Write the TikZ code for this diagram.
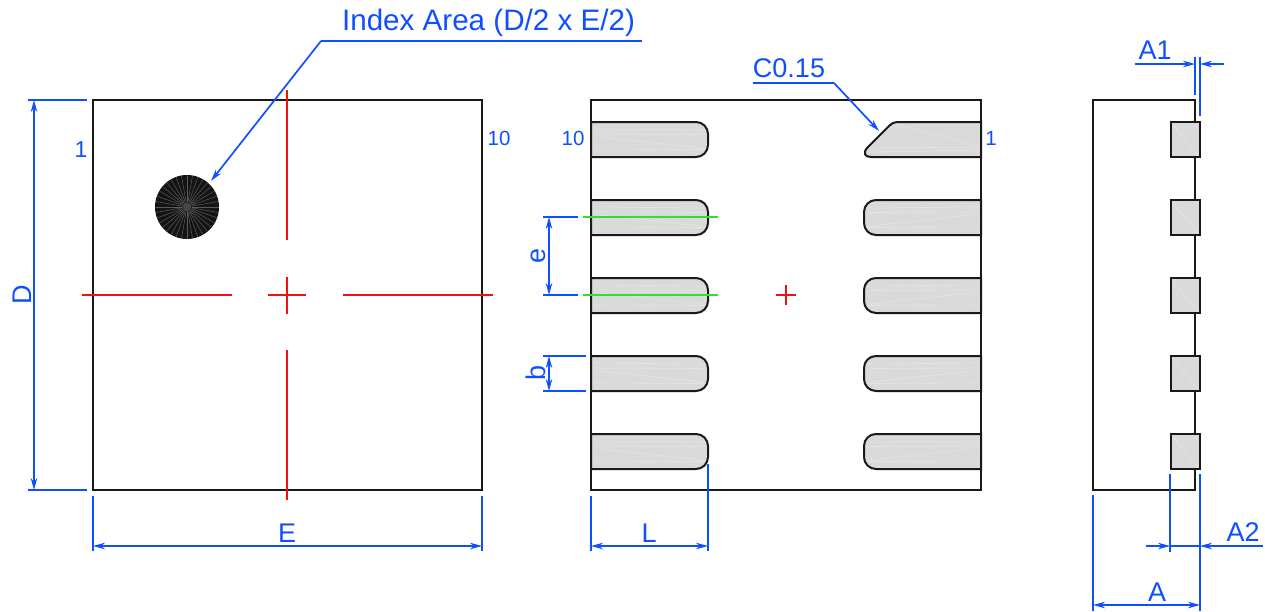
\documentclass[tikz,border=0pt]{standalone}
\usepackage{fontspec}
\setmainfont{Liberation Sans}
\usetikzlibrary{arrows.meta}
\definecolor{dimblue}{HTML}{0F4FFF}
\definecolor{padgray}{HTML}{DADADA}
\definecolor{cred}{HTML}{F01010}
\definecolor{cgreen}{HTML}{30E030}
\tikzset{
  x=1pt,y=-1pt,
  outline/.style={draw=black!90,line width=1.8pt},
  padshape/.style={draw=black!90,line width=2pt,fill=padgray},
  streak/.style={draw=white,line width=.6pt,opacity=.3},
  dimline/.style={draw=dimblue,line width=1.7pt},
  dimarrow/.style={dimline,-{Stealth[length=12pt,width=6.5pt]}},
  dimboth/.style={dimline,{Stealth[length=12pt,width=6.5pt]}-{Stealth[length=12pt,width=6.5pt]}},
  centerline/.style={draw=cred,line width=1.7pt},
  pitchline/.style={draw=cgreen,line width=1.7pt},
  lbl/.style={text=dimblue,inner sep=0pt,font=\fontsize{27}{27}\selectfont},
  smalllbl/.style={text=dimblue,inner sep=0pt,font=\fontsize{20.5}{20.5}\selectfont},
  biglbl/.style={text=dimblue,inner sep=0pt,font=\fontsize{29.6}{29.6}\selectfont},
}
\newcommand{\leftpad}[1]{%
  \draw[padshape] (591,#1) -- (696,#1) arc[start angle=-90,end angle=0,radius=12] -- (708,#1+23) arc[start angle=0,end angle=90,radius=12] -- (591,#1+35) -- cycle;
  \draw[streak] (593,#1+7) -- (704,#1+8) (593,#1+27) -- (704,#1+27.5) (593,#1+12) -- (702,#1+12.5) (600,#1+15) -- (702,#1+26);
}
\newcommand{\rightpad}[1]{%
  \draw[padshape] (981,#1) -- (876,#1) arc[start angle=270,end angle=180,radius=12] -- (864,#1+23) arc[start angle=180,end angle=90,radius=12] -- (981,#1+35) -- cycle;
  \draw[streak] (979,#1+7) -- (868,#1+8) (979,#1+27) -- (868,#1+27.5) (979,#1+12) -- (870,#1+12.5) (972,#1+15) -- (870,#1+26);
}
\newcommand{\sidepad}[1]{%
  \draw[padshape] (1170.5,#1) rectangle (1199.5,#1+35);
  \draw[streak] (1172,#1+2) -- (1198,#1+33);
}
\begin{document}
\begin{tikzpicture}
\useasboundingbox (0,0) rectangle (1265,611);
% left view
\draw[outline] (93,100) rectangle (482,490);
\draw[centerline] (287,90) -- (287,240) (287,277) -- (287,314) (287,350) -- (287,500);
\draw[centerline] (82,295) -- (232,295) (268,295) -- (306,295) (343,295) -- (493,295);
\fill[black!92] (187,207) circle[radius=32];
\foreach \a in {0,10,...,350}{\draw[white,opacity=.3,line width=.5pt] (187,207) ++(\a:5) -- ++(\a:26.5);}
\fill[white,opacity=.22] (187,207) circle[radius=4.5];
% middle view
\draw[outline] (591,100) rectangle (981,490);
\foreach \y in {122,200,278,356,434}{\leftpad{\y}}
\foreach \y in {200,278,356,434}{\rightpad{\y}}
\draw[padshape] (981,122) -- (899,122) .. controls (893,122) and (891,124) .. (888,127) -- (868,147) .. controls (862,153) and (865,157) .. (871,157) -- (981,157) -- cycle;
\draw[streak] (979,146) -- (895,124) (979,150) -- (872,152) (979,147) -- (880,148);
\draw[pitchline] (583,217) -- (718,217) (583,295) -- (718,295);
\draw[centerline] (776,295) -- (796,295) (786,285) -- (786,305);
% side view
\draw[outline] (1093,100) -- (1195,100) -- (1195,490) -- (1093,490) -- cycle;
\foreach \y in {122,200,278,356,434}{\sidepad{\y}}
% leaders
\coordinate (idxA) at (642,41);
\coordinate (idxB) at (321,41);
\coordinate (idxC) at (211,181);
\draw[dimline] (idxA) -- (idxB);
\draw[dimarrow] (idxB) -- (idxC);
\node[biglbl] (idxT) at (488.5,23) {Index Area (D/2 x E/2)};
\coordinate (chA) at (753,83);
\coordinate (chB) at (834,83);
\coordinate (chC) at (879,131);
\draw[dimline] (chA) -- (chB);
\draw[dimarrow] (chB) -- (chC);
\node[lbl] (chT) at (789,68) {C0.15};
% D, E
\draw[dimline] (28,100) -- (87,100) (28,490) -- (87,490);
\draw[dimboth] (34,100) -- (34,490);
\node[lbl,rotate=90] (dT) at (22,295) {D};
\draw[dimline] (93,496) -- (93,551) (482,496) -- (482,551);
\draw[dimboth] (93,546) -- (482,546);
\node[lbl] (eT) at (287,533) {E};
% e, b, L
\draw[dimline] (543,217) -- (578,217) (543,295) -- (578,295);
\draw[dimboth] (549,217) -- (549,295);
\node[lbl,rotate=90] (pT) at (538,256) {e};
\draw[dimline] (543,356) -- (586,356) (543,391) -- (586,391);
\draw[dimboth] (549,356) -- (549,391);
\node[lbl,rotate=90] (wT) at (536,373) {b};
\draw[dimline] (591,496) -- (591,551) (708,464) -- (708,551);
\draw[dimboth] (591,546) -- (708,546);
\node[lbl] (lT) at (649,533) {L};
% A1, A2, A
\draw[dimline] (1195,57) -- (1195,95) (1200,57) -- (1200,116);
\draw[dimarrow] (1135,64) -- (1195,64);
\draw[dimarrow] (1224,64) -- (1200,64);
\node[lbl] (a1T) at (1155,50) {A1};
\draw[dimline] (1170,474) -- (1170,552) (1200,474) -- (1200,611) (1093,495) -- (1093,611);
\draw[dimarrow] (1146,546) -- (1170,546);
\draw[dimline] (1170,546) -- (1200,546);
\draw[dimarrow] (1263,546) -- (1200,546);
\node[lbl] (a2T) at (1243,532) {A2};
\draw[dimboth] (1093,605) -- (1200,605);
\node[lbl] (aT) at (1157,592) {A};
% pin labels
\node[lbl,font=\fontsize{23}{23}\selectfont] (p1a) at (81,150) {1};
\node[smalllbl] (p10a) at (499,138) {10};
\node[smalllbl] (p10b) at (573,138) {10};
\node[smalllbl] (p1b) at (991,138) {1};
\end{tikzpicture}
\end{document}
